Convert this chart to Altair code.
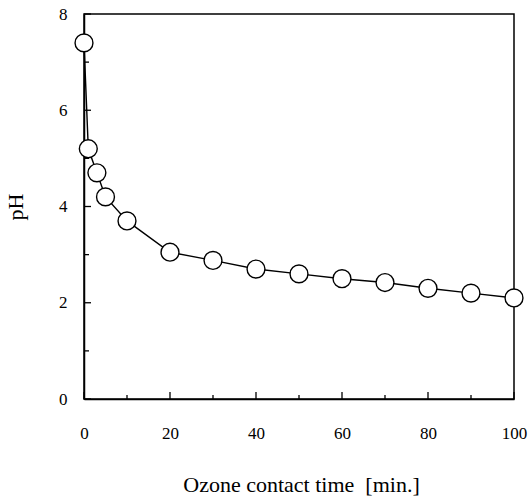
import altair as alt
import pandas as pd

# data
time_min = [0, 1, 3, 5, 10, 20, 30, 40, 50, 60, 70, 80, 90, 100]
ph_values = [7.4, 5.2, 4.7, 4.2, 3.7, 3.05, 2.88, 2.7, 2.6, 2.5, 2.42, 2.3, 2.2, 2.1]

x_major = [0, 20, 40, 60, 80, 100]
x_minor = [10, 30, 50, 70, 90]
y_major = [0, 2, 4, 6, 8]
y_minor = [1, 3, 5, 7]

W, H = 430, 385
FONT = "Liberation Serif"

df = pd.DataFrame({"t": time_min, "pH": ph_values})

xscale = alt.Scale(domain=[0, 100], nice=False, zero=False)
yscale = alt.Scale(domain=[0, 8], nice=False, zero=False)

x_axis = alt.Axis(
    values=x_major, format="d", ticks=False, tickSize=0, grid=False,
    labelPadding=39, labelBaseline="alphabetic", labelFlush=False,
    title="Ozone contact time\u00a0\u00a0[min.]",
    titleBaseline="alphabetic", titleY=92, titleX=W / 2 + 2, titleAlign="center",
)
y_axis = alt.Axis(
    values=y_major, format="d", ticks=False, tickSize=0, grid=False,
    labelPadding=17, labelFlush=False,
    title="pH", titleAngle=270, titleBaseline="alphabetic",
    titleX=-62, titleY=H / 2, titleAlign="center",
)


def X(field="t"):
    return alt.X(f"{field}:Q", scale=xscale, axis=x_axis)


def Y(field="pH"):
    return alt.Y(f"{field}:Q", scale=yscale, axis=y_axis)


ytick_major = alt.Chart(pd.DataFrame({"pH": y_major})).mark_rule(
    color="black", strokeWidth=1.3
).encode(y=Y(), x=alt.value(0), x2=alt.value(7))
ytick_minor = alt.Chart(pd.DataFrame({"pH": y_minor})).mark_rule(
    color="black", strokeWidth=1.3
).encode(y=Y(), x=alt.value(0), x2=alt.value(5))
xtick_major = alt.Chart(pd.DataFrame({"t": x_major})).mark_rule(
    color="black", strokeWidth=1.3
).encode(x=X(), y=alt.value(H), y2=alt.value(H - 7))
xtick_minor = alt.Chart(pd.DataFrame({"t": x_minor})).mark_rule(
    color="black", strokeWidth=1.3
).encode(x=X(), y=alt.value(H), y2=alt.value(H - 4))

line = alt.Chart(df).mark_line(color="black", strokeWidth=1.4).encode(x=X(), y=Y())
points = alt.Chart(df).mark_point(
    shape="circle", filled=True, fill="white", stroke="black",
    strokeWidth=1.4, size=320, opacity=1,
).encode(x=X(), y=Y())

chart = alt.layer(
    ytick_major, ytick_minor, xtick_major, xtick_minor, line, points
).properties(
    width=W, height=H,
    autosize=alt.AutoSizeParams(type="none"),
    padding={"left": 84, "top": 14, "right": 16, "bottom": 98},
    background="white",
).configure_view(
    stroke="black", strokeWidth=1.5
).configure_axis(
    domainColor="black", domainWidth=1.5,
    labelFont=FONT, labelFontSize=17, labelColor="black",
    titleFont=FONT, titleFontSize=22, titleFontWeight="normal", titleColor="black",
)

chart.save("out.html", embed_options={"renderer": "svg", "actions": False})
